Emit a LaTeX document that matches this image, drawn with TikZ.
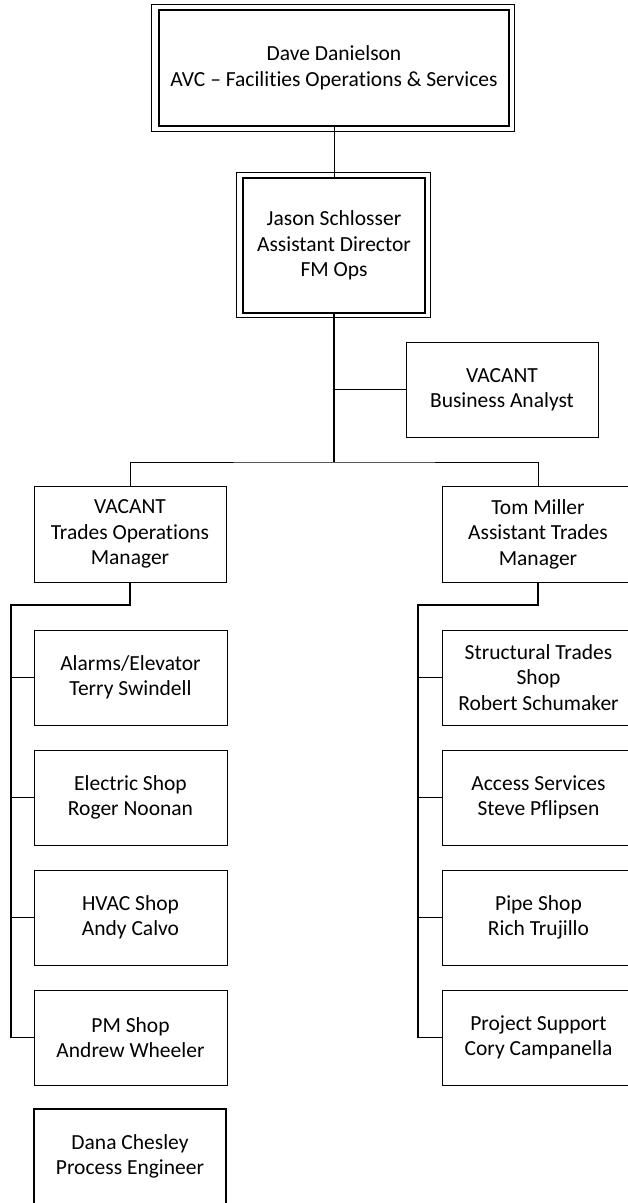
\documentclass[tikz,border=0pt]{standalone}
\usepackage{fontspec}
\setmainfont[Ligatures=NoCommon]{Carlito}
\begin{document}
\begin{tikzpicture}[x=1pt,y=-1pt,
  box/.style={draw, line width=1pt, minimum width=192pt, minimum height=95pt, inner sep=0pt, align=center, font=\fontsize{21.5}{25.5}\selectfont},
  conn/.style={line width=1pt},
  trunk/.style={line width=1.8pt}]
\useasboundingbox (0,0) rectangle (628,1203);
\clip (0,0) rectangle (628,1203);

% top
\node[box, line width=1.8pt, minimum width=350pt, minimum height=116pt] (dave) at (334,68) {Dave Danielson\\AVC – Facilities Operations \& Services};
\draw[line width=1pt] ([shift={(-7,-5)}]dave.north west) rectangle ([shift={(5,5)}]dave.south east);

\node[box, line width=1.8pt, minimum width=182pt, minimum height=135pt] (jason) at (334,245.5) {Jason Schlosser\\Assistant Director\\FM Ops};
\draw[line width=1pt] ([shift={(-6,-5)}]jason.north west) rectangle ([shift={(5,4)}]jason.south east);

\node[box] (ba) at (502,389.5) {VACANT\\Business Analyst};

\node[box, minimum height=96pt] (vacmgr) at (130,534) {VACANT\\Trades Operations\\Manager};
\node[box, minimum height=96pt] (tommgr) at (538,534) {Tom Miller\\Assistant Trades\\Manager};

% left column
\node[box, minimum width=193pt] (l1) at (130.5,677.5) {Alarms/Elevator\\Terry Swindell};
\node[box, minimum width=193pt] (l2) at (130.5,797.5) {Electric Shop\\Roger Noonan};
\node[box, minimum width=193pt] (l3) at (130.5,917.5) {HVAC Shop\\Andy Calvo};
\node[box, minimum width=193pt] (l4) at (130.5,1037.5) {PM Shop\\Andrew Wheeler};
\node[box, line width=1.8pt] (dana) at (130,1156.5) {Dana Chesley\\Process Engineer};

% right column
\node[box, minimum width=193pt] (r1) at (538.5,677.5) {Structural Trades\\Shop\\Robert Schumaker};
\node[box, minimum width=193pt] (r2) at (538.5,797.5) {Access Services\\Steve Pflipsen};
\node[box, minimum width=193pt] (r3) at (538.5,917.5) {Pipe Shop\\Rich Trujillo};
\node[box, minimum width=193pt] (r4) at (538.5,1037.5) {Project Support\\Cory Campanella};

% connectors
\coordinate (bar) at (334,462);
\coordinate (lel) at (11,605);
\coordinate (rel) at (418,605);

\draw[conn] (dave.south) -- (jason.north);
\draw[trunk] (jason.south) -- (bar);
\draw[conn] (ba.west) -- (ba.west -| bar);
\draw[conn] (vacmgr.north) |- (bar) -| (tommgr.north);

\draw[trunk] (vacmgr.south) |- (lel) -- (lel |- l4.west);
\foreach \n in {l1,l2,l3,l4} \draw[conn] (\n.west) -- (\n.west -| lel);

\draw[trunk] (tommgr.south) |- (rel) -- (rel |- r4.west);
\foreach \n in {r1,r2,r3,r4} \draw[conn] (\n.west) -- (\n.west -| rel);
\end{tikzpicture}
\end{document}
